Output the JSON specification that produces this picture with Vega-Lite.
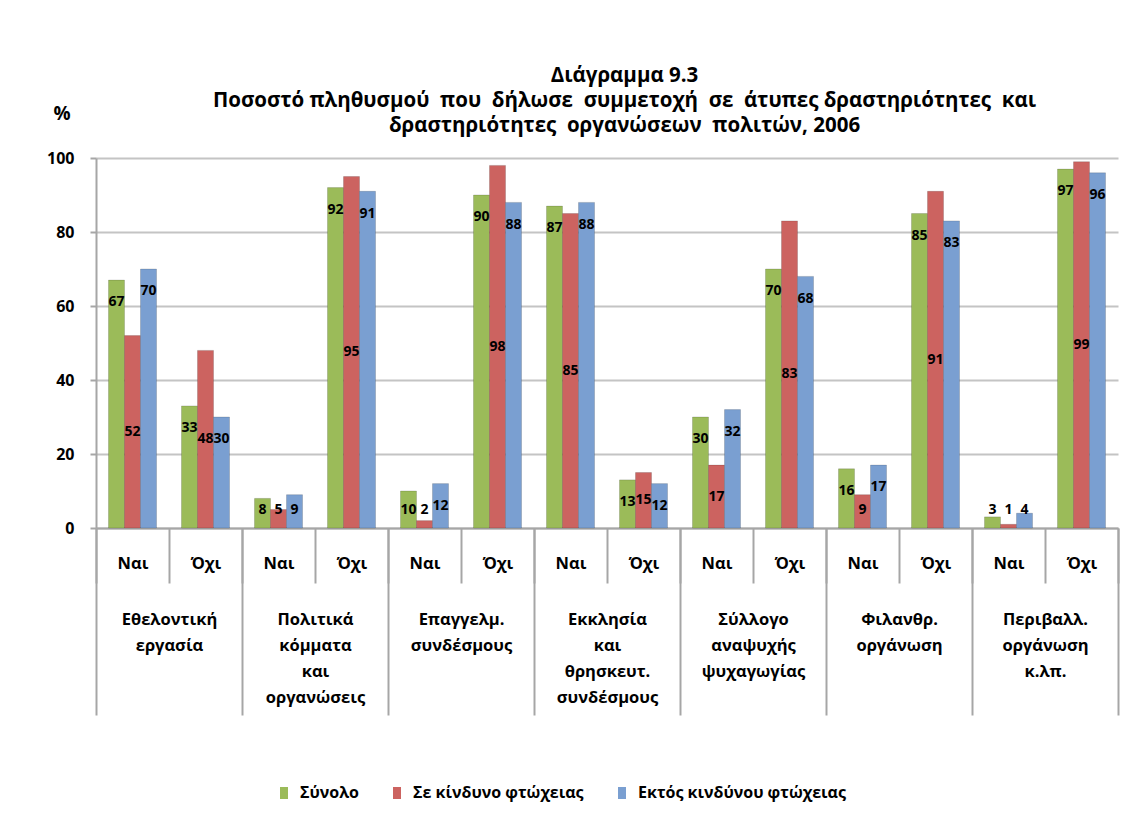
{
  "$schema": "https://vega.github.io/schema/vega-lite/v6.json",
  "autosize": "none",
  "width": 1022,
  "height": 370,
  "padding": {"left": 96, "top": 158, "right": 4, "bottom": 300},
  "background": "white",
  "config": {
    "font": "Open Sans",
    "view": {"stroke": null},
    "axis": {"labelFont": "Open Sans", "labelFontWeight": "bold", "labelColor": "black", "titleFont": "Open Sans"},
    "axisY": {
      "titleAngle": 0, "titleFontSize": 19, "titleFontWeight": "bold", "titleColor": "black",
      "titleX": -26, "titleY": -45, "titleAlign": "right", "titleBaseline": "middle",
      "labelFontSize": 16, "labelPadding": 16,
      "tickSize": 6, "tickColor": "#a6a6a6", "tickWidth": 2,
      "domainColor": "#a6a6a6", "domainWidth": 2,
      "gridColor": "#c4c4c4", "gridWidth": 2
    }
  },
  "data": {
    "values": [
      {"g": "Εθελοντική|εργασία", "a": "Ναι", "s": "Σύνολο", "v": 67},
      {"g": "Εθελοντική|εργασία", "a": "Ναι", "s": "Σε κίνδυνο φτώχειας", "v": 52},
      {"g": "Εθελοντική|εργασία", "a": "Ναι", "s": "Εκτός κινδύνου φτώχειας", "v": 70},
      {"g": "Εθελοντική|εργασία", "a": "Όχι", "s": "Σύνολο", "v": 33},
      {"g": "Εθελοντική|εργασία", "a": "Όχι", "s": "Σε κίνδυνο φτώχειας", "v": 48},
      {"g": "Εθελοντική|εργασία", "a": "Όχι", "s": "Εκτός κινδύνου φτώχειας", "v": 30},
      {"g": "Πολιτικά|κόμματα|και|οργανώσεις", "a": "Ναι", "s": "Σύνολο", "v": 8},
      {"g": "Πολιτικά|κόμματα|και|οργανώσεις", "a": "Ναι", "s": "Σε κίνδυνο φτώχειας", "v": 5},
      {"g": "Πολιτικά|κόμματα|και|οργανώσεις", "a": "Ναι", "s": "Εκτός κινδύνου φτώχειας", "v": 9},
      {"g": "Πολιτικά|κόμματα|και|οργανώσεις", "a": "Όχι", "s": "Σύνολο", "v": 92},
      {"g": "Πολιτικά|κόμματα|και|οργανώσεις", "a": "Όχι", "s": "Σε κίνδυνο φτώχειας", "v": 95},
      {"g": "Πολιτικά|κόμματα|και|οργανώσεις", "a": "Όχι", "s": "Εκτός κινδύνου φτώχειας", "v": 91},
      {"g": "Επαγγελμ.|συνδέσμους", "a": "Ναι", "s": "Σύνολο", "v": 10},
      {"g": "Επαγγελμ.|συνδέσμους", "a": "Ναι", "s": "Σε κίνδυνο φτώχειας", "v": 2},
      {"g": "Επαγγελμ.|συνδέσμους", "a": "Ναι", "s": "Εκτός κινδύνου φτώχειας", "v": 12},
      {"g": "Επαγγελμ.|συνδέσμους", "a": "Όχι", "s": "Σύνολο", "v": 90},
      {"g": "Επαγγελμ.|συνδέσμους", "a": "Όχι", "s": "Σε κίνδυνο φτώχειας", "v": 98},
      {"g": "Επαγγελμ.|συνδέσμους", "a": "Όχι", "s": "Εκτός κινδύνου φτώχειας", "v": 88},
      {"g": "Εκκλησία|και|θρησκευτ.|συνδέσμους", "a": "Ναι", "s": "Σύνολο", "v": 87},
      {"g": "Εκκλησία|και|θρησκευτ.|συνδέσμους", "a": "Ναι", "s": "Σε κίνδυνο φτώχειας", "v": 85},
      {"g": "Εκκλησία|και|θρησκευτ.|συνδέσμους", "a": "Ναι", "s": "Εκτός κινδύνου φτώχειας", "v": 88},
      {"g": "Εκκλησία|και|θρησκευτ.|συνδέσμους", "a": "Όχι", "s": "Σύνολο", "v": 13},
      {"g": "Εκκλησία|και|θρησκευτ.|συνδέσμους", "a": "Όχι", "s": "Σε κίνδυνο φτώχειας", "v": 15},
      {"g": "Εκκλησία|και|θρησκευτ.|συνδέσμους", "a": "Όχι", "s": "Εκτός κινδύνου φτώχειας", "v": 12},
      {"g": "Σύλλογο|αναψυχής|ψυχαγωγίας", "a": "Ναι", "s": "Σύνολο", "v": 30},
      {"g": "Σύλλογο|αναψυχής|ψυχαγωγίας", "a": "Ναι", "s": "Σε κίνδυνο φτώχειας", "v": 17},
      {"g": "Σύλλογο|αναψυχής|ψυχαγωγίας", "a": "Ναι", "s": "Εκτός κινδύνου φτώχειας", "v": 32},
      {"g": "Σύλλογο|αναψυχής|ψυχαγωγίας", "a": "Όχι", "s": "Σύνολο", "v": 70},
      {"g": "Σύλλογο|αναψυχής|ψυχαγωγίας", "a": "Όχι", "s": "Σε κίνδυνο φτώχειας", "v": 83},
      {"g": "Σύλλογο|αναψυχής|ψυχαγωγίας", "a": "Όχι", "s": "Εκτός κινδύνου φτώχειας", "v": 68},
      {"g": "Φιλανθρ.|οργάνωση", "a": "Ναι", "s": "Σύνολο", "v": 16},
      {"g": "Φιλανθρ.|οργάνωση", "a": "Ναι", "s": "Σε κίνδυνο φτώχειας", "v": 9},
      {"g": "Φιλανθρ.|οργάνωση", "a": "Ναι", "s": "Εκτός κινδύνου φτώχειας", "v": 17},
      {"g": "Φιλανθρ.|οργάνωση", "a": "Όχι", "s": "Σύνολο", "v": 85},
      {"g": "Φιλανθρ.|οργάνωση", "a": "Όχι", "s": "Σε κίνδυνο φτώχειας", "v": 91},
      {"g": "Φιλανθρ.|οργάνωση", "a": "Όχι", "s": "Εκτός κινδύνου φτώχειας", "v": 83},
      {"g": "Περιβαλλ.|οργάνωση|κ.λπ.", "a": "Ναι", "s": "Σύνολο", "v": 3},
      {"g": "Περιβαλλ.|οργάνωση|κ.λπ.", "a": "Ναι", "s": "Σε κίνδυνο φτώχειας", "v": 1},
      {"g": "Περιβαλλ.|οργάνωση|κ.λπ.", "a": "Ναι", "s": "Εκτός κινδύνου φτώχειας", "v": 4},
      {"g": "Περιβαλλ.|οργάνωση|κ.λπ.", "a": "Όχι", "s": "Σύνολο", "v": 97},
      {"g": "Περιβαλλ.|οργάνωση|κ.λπ.", "a": "Όχι", "s": "Σε κίνδυνο φτώχειας", "v": 99},
      {"g": "Περιβαλλ.|οργάνωση|κ.λπ.", "a": "Όχι", "s": "Εκτός κινδύνου φτώχειας", "v": 96}
    ]
  },
  "transform": [
    {"calculate": "datum.g + '#' + datum.a", "as": "slot"},
    {"calculate": "datum.s == 'Σε κίνδυνο φτώχειας' ? max(datum.v / 2, 5) : max(datum.v - 6, 5)", "as": "labelY"}
  ],
  "resolve": {"scale": {"x": "independent"}, "axis": {"x": "independent"}},
  "layer": [
    {
      "mark": {"type": "bar", "stroke": "#000000", "strokeOpacity": 0.15, "strokeWidth": 1},
      "encoding": {
        "x": {
          "field": "slot", "type": "nominal", "sort": null,
          "scale": {"paddingInner": 0, "paddingOuter": 0},
          "axis": {
            "orient": "bottom", "title": null, "labelAngle": 0,
            "labelExpr": "split(datum.label, '#')[1]",
            "labelFontSize": 16.5, "labelPadding": -28,
            "tickBand": "extent", "tickSize": 55, "tickColor": "#a6a6a6", "tickWidth": 2,
            "domainColor": "#a6a6a6", "domainWidth": 2
          }
        },
        "xOffset": {
          "field": "s", "type": "nominal", "sort": ["Σύνολο", "Σε κίνδυνο φτώχειας", "Εκτός κινδύνου φτώχειας"],
          "scale": {"paddingInner": 0, "paddingOuter": 0.78}
        },
        "y": {
          "field": "v", "type": "quantitative",
          "scale": {"domain": [0, 100], "nice": false},
          "axis": {"title": "%", "values": [0, 20, 40, 60, 80, 100]}
        },
        "color": {
          "field": "s", "type": "nominal",
          "scale": {"domain": ["Σύνολο", "Σε κίνδυνο φτώχειας", "Εκτός κινδύνου φτώχειας"], "range": ["#9bbb59", "#cc6360", "#7a9fd1"]},
          "legend": {
            "orient": "none", "legendX": 180, "legendY": 627, "direction": "horizontal", "title": null,
            "symbolType": "M-1,-1.5H1V1.5H-1Z", "symbolSize": 64, "symbolStrokeWidth": 0,
            "labelFont": "Open Sans", "labelFontSize": 16, "labelFontWeight": "bold", "labelColor": "black",
            "labelOffset": 8, "columnPadding": 30, "labelLimit": 400
          }
        }
      }
    },
    {
      "mark": {"type": "text", "font": "Open Sans", "fontSize": 14, "fontWeight": "bold", "color": "black", "baseline": "middle"},
      "encoding": {
        "x": {
          "field": "slot", "type": "nominal", "sort": null, "scale": {"paddingInner": 0, "paddingOuter": 0},
          "axis": {
            "orient": "top", "labels": false, "ticks": false, "domain": false, "grid": false,
            "title": ["Διάγραμμα 9.3", "Ποσοστό πληθυσμού\u00a0 που\u00a0 δήλωσε\u00a0 συμμετοχή\u00a0 σε\u00a0 άτυπες δραστηριότητες\u00a0 και", "δραστηριότητες\u00a0 οργανώσεων\u00a0 πολιτών, 2006"],
            "titleX": 528, "titleY": -93, "titleAlign": "center", "titleBaseline": "top", "titleAngle": 0,
            "titleFont": "Open Sans", "titleFontSize": 20.5, "titleFontWeight": "bold", "titleColor": "black",
            "titleLineHeight": 25, "titleLimit": 1100
          }
        },
        "xOffset": {
          "field": "s", "type": "nominal", "sort": ["Σύνολο", "Σε κίνδυνο φτώχειας", "Εκτός κινδύνου φτώχειας"],
          "scale": {"paddingInner": 0, "paddingOuter": 0.78}
        },
        "y": {"field": "labelY", "type": "quantitative", "axis": {"title": "%", "values": [0, 20, 40, 60, 80, 100]}},
        "text": {"field": "v", "type": "quantitative"}
      }
    },
    {
      "mark": {"type": "bar", "opacity": 0},
      "encoding": {
        "x": {
          "field": "g", "type": "nominal", "sort": null,
          "scale": {"paddingInner": 0, "paddingOuter": 0},
          "axis": {
            "orient": "bottom", "title": null, "labelAngle": 0,
            "labelExpr": "split(datum.label, '|')",
            "labelFontSize": 16.5, "labelPadding": -104, "labelLineHeight": 26,
            "tickBand": "extent", "tickSize": 187, "tickColor": "#a6a6a6", "tickWidth": 2,
            "domain": false
          }
        },
        "y": {"field": "v", "type": "quantitative", "axis": {"title": "%", "values": [0, 20, 40, 60, 80, 100]}}
      }
    }
  ]
}
